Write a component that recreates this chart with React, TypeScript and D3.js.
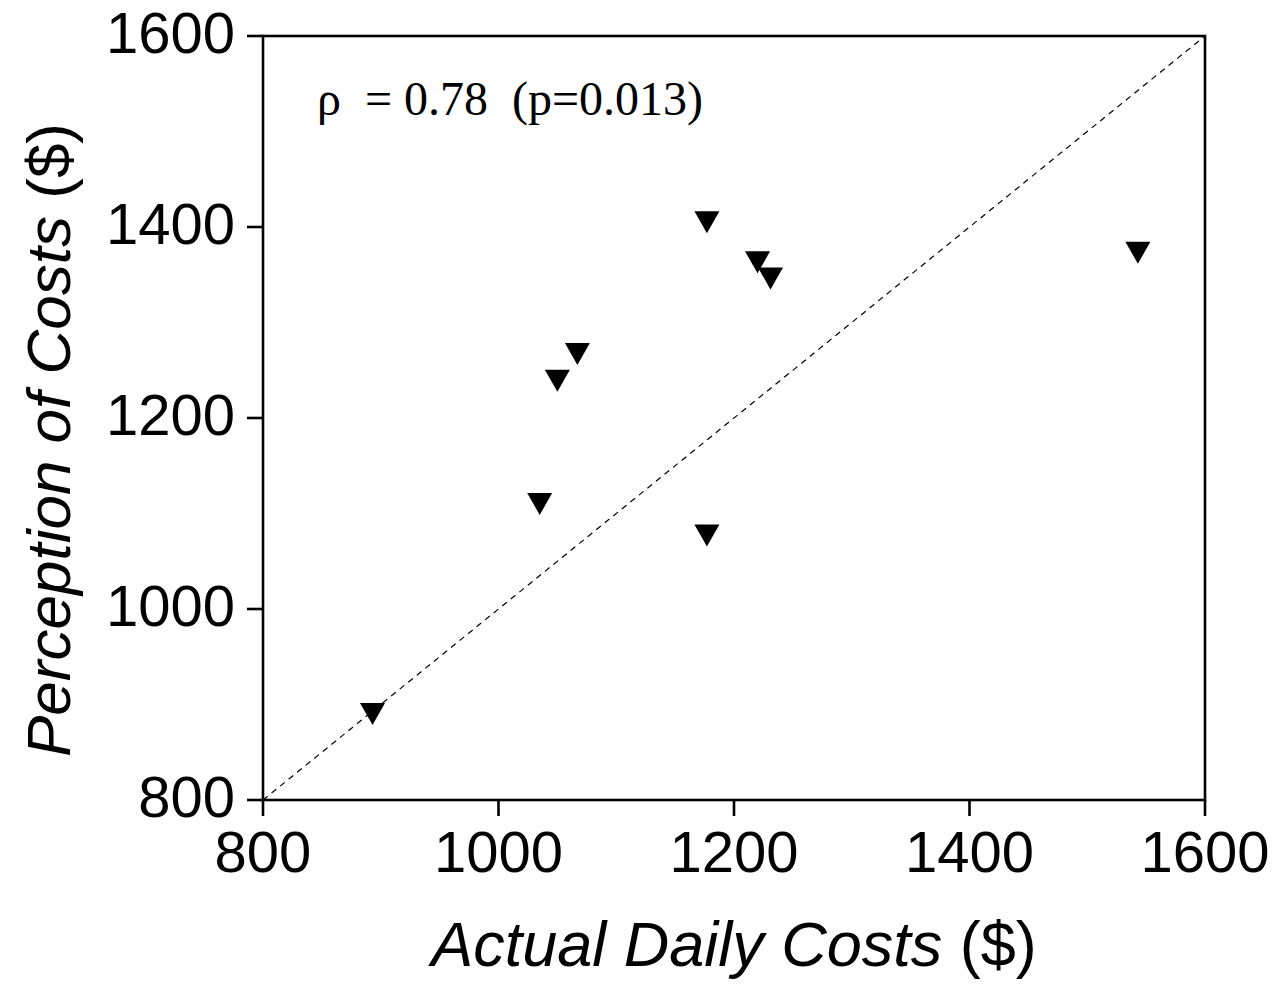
import React from "react";
import * as d3 from "d3";

const actualCosts = [893, 1035, 1177, 1050, 1067, 1177, 1220, 1231, 1543];
const perceivedCosts = [890, 1110, 1077, 1239, 1267, 1405, 1363, 1346, 1373];
const xTicks = [800, 1000, 1200, 1400, 1600];
const yTicks = [800, 1000, 1200, 1400, 1600];
const annotation = "ρ  = 0.78  (p=0.013)";

export default function App() {
  const W = 1279, H = 988;
  const left = 263, right = 1205, top = 36, bottom = 800;
  const x = d3.scaleLinear().domain([800, 1600]).range([left, right]);
  const y = d3.scaleLinear().domain([800, 1600]).range([bottom, top]);
  const tri = "M-12.5,-11L12.5,-11L0,11Z";
  const sans = "Liberation Sans, Arial, sans-serif";
  const pts = actualCosts.map((a, i) => ({ a, p: perceivedCosts[i] }));
  return (
    <svg width={W} height={H} style={{ position: "absolute", left: 0, top: 0, background: "#fff" }}>
      <rect x={0} y={0} width={W} height={H} fill="#fff" />
      <line x1={x(800)} y1={y(800)} x2={x(1600)} y2={y(1600)} stroke="#000" strokeWidth={1.2} strokeDasharray="6,5" />
      <rect x={left} y={top} width={right - left} height={bottom - top} fill="none" stroke="#000" strokeWidth={2.6} />
      {xTicks.map((t) => (
        <g key={"x" + t}>
          <line x1={x(t)} x2={x(t)} y1={bottom} y2={bottom + 16} stroke="#000" strokeWidth={2.6} />
          <text x={x(t)} y={bottom + 72} textAnchor="middle" fontFamily={sans} fontSize={58}>{t}</text>
        </g>
      ))}
      {yTicks.map((t) => (
        <g key={"y" + t}>
          <line x1={left - 16} x2={left} y1={y(t)} y2={y(t)} stroke="#000" strokeWidth={2.6} />
          <text x={left - 28} y={y(t) + 17} textAnchor="end" fontFamily={sans} fontSize={58}>{t}</text>
        </g>
      ))}
      {pts.map((d, i) => (
        <path key={i} d={tri} transform={`translate(${x(d.a)},${y(d.p)})`} fill="#000" />
      ))}
      <text x={317} y={115} fontFamily="Liberation Serif, Times New Roman, serif" fontSize={48} xmlSpace="preserve" style={{ whiteSpace: "pre" }}>{annotation}</text>
      <text x={(left + right) / 2} y={966} textAnchor="middle" fontFamily={sans} fontSize={63}>
        <tspan fontStyle="italic">Actual Daily Costs</tspan>
        <tspan> ($)</tspan>
      </text>
      <text transform={`translate(70,${(top + bottom) / 2 + 22}) rotate(-90)`} textAnchor="middle" fontFamily={sans} fontSize={62}>
        <tspan fontStyle="italic">Perception of Costs</tspan>
        <tspan> ($)</tspan>
      </text>
    </svg>
  );
}
